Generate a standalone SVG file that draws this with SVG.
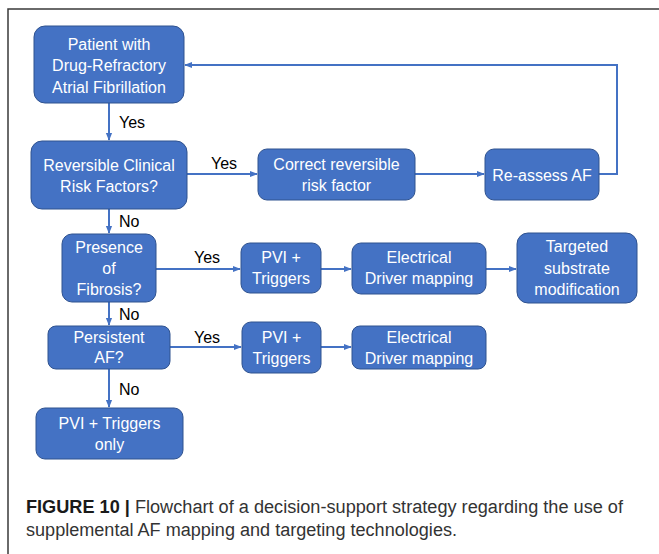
<svg xmlns="http://www.w3.org/2000/svg" width="659" height="554" viewBox="0 0 659 554">
<defs>
<marker id="ah" viewBox="0 0 10 10" refX="9" refY="5" markerWidth="4" markerHeight="4" orient="auto" markerUnits="strokeWidth"><path d="M0,1 L10,5 L0,9 z" fill="#4472C4"/></marker>
<style>
.box{fill:#4472C4;stroke:#2F528F;stroke-width:1}
.t{font-family:"Liberation Sans",Arial,sans-serif;font-size:16px;fill:#fff;text-anchor:middle}
.lbl{font-family:"Liberation Sans",Arial,sans-serif;font-size:16px;fill:#000}
.c{fill:none;stroke:#4472C4;stroke-width:2;marker-end:url(#ah)}
.cap{font-family:"Liberation Sans",Arial,sans-serif;font-size:18px;fill:#333}
</style>
</defs>
<rect width="659" height="554" fill="#fff"/>
<path d="M8,554 V9 H659" fill="none" stroke="#3a3a3a" stroke-width="1.5"/>
<g id="connectors">
<path class="c" d="M109,103 V140"/>
<path class="c" d="M187,174 H257"/>
<path class="c" d="M415,174 H484"/>
<path class="c" d="M599,174 H617 V65 H185"/>
<path class="c" d="M109,209 V233"/>
<path class="c" d="M156,269 H240"/>
<path class="c" d="M321,269 H351"/>
<path class="c" d="M486,269 H516"/>
<path class="c" d="M109,302 V325"/>
<path class="c" d="M170,347 H241"/>
<path class="c" d="M321,347 H351"/>
<path class="c" d="M109,369 V407"/>
<text class="lbl" x="119" y="128">Yes</text>
<text class="lbl" x="211" y="169">Yes</text>
<text class="lbl" x="119" y="227">No</text>
<text class="lbl" x="194" y="263">Yes</text>
<text class="lbl" x="119" y="320">No</text>
<text class="lbl" x="194" y="343">Yes</text>
<text class="lbl" x="119" y="395">No</text>
</g>
<g id="n1"><rect class="box" x="34" y="26" width="150" height="77" rx="11"/>
<text class="t" x="109" y="50">Patient with</text><text class="t" x="109" y="71">Drug-Refractory</text><text class="t" x="109" y="92.5">Atrial Fibrillation</text></g>
<g id="n2"><rect class="box" x="31" y="141" width="156" height="68" rx="11"/>
<text class="t" x="109" y="171">Reversible Clinical</text><text class="t" x="109" y="192">Risk Factors?</text></g>
<g id="n3"><rect class="box" x="258" y="149" width="157" height="51" rx="9"/>
<text class="t" x="336.5" y="170">Correct reversible</text><text class="t" x="336.5" y="190.5">risk factor</text></g>
<g id="n4"><rect class="box" x="485" y="149" width="114" height="51" rx="9"/>
<text class="t" x="542" y="181">Re-assess AF</text></g>
<g id="n5"><rect class="box" x="62" y="234" width="94" height="68" rx="10"/>
<text class="t" x="109" y="252.5">Presence</text><text class="t" x="109" y="273.5">of</text><text class="t" x="109" y="295">Fibrosis?</text></g>
<g id="n6"><rect class="box" x="241" y="243" width="80" height="50" rx="9"/>
<text class="t" x="281" y="263">PVI +</text><text class="t" x="281" y="284">Triggers</text></g>
<g id="n7"><rect class="box" x="352" y="243" width="134" height="51" rx="9"/>
<text class="t" x="419" y="263">Electrical</text><text class="t" x="419" y="284">Driver mapping</text></g>
<g id="n8"><rect class="box" x="517" y="233" width="120" height="70" rx="11"/>
<text class="t" x="577" y="252">Targeted</text><text class="t" x="577" y="273.5">substrate</text><text class="t" x="577" y="295">modification</text></g>
<g id="n9"><rect class="box" x="48" y="326" width="122" height="43" rx="8"/>
<text class="t" x="109" y="343">Persistent</text><text class="t" x="109" y="363">AF?</text></g>
<g id="n10"><rect class="box" x="242" y="322" width="79" height="51" rx="9"/>
<text class="t" x="281.5" y="343">PVI +</text><text class="t" x="281.5" y="364">Triggers</text></g>
<g id="n11"><rect class="box" x="352" y="326" width="134" height="43" rx="8"/>
<text class="t" x="419" y="343">Electrical</text><text class="t" x="419" y="364">Driver mapping</text></g>
<g id="n12"><rect class="box" x="36" y="408" width="147" height="51" rx="9"/>
<text class="t" x="109.5" y="429">PVI + Triggers</text><text class="t" x="109.5" y="450">only</text></g>
<text class="cap" x="26" y="513" textLength="597" lengthAdjust="spacingAndGlyphs"><tspan font-weight="bold" fill="#1a1a1a">FIGURE 10 |</tspan> Flowchart of a decision-support strategy regarding the use of</text>
<text class="cap" x="26" y="536" textLength="431" lengthAdjust="spacingAndGlyphs">supplemental AF mapping and targeting technologies.</text>
</svg>
